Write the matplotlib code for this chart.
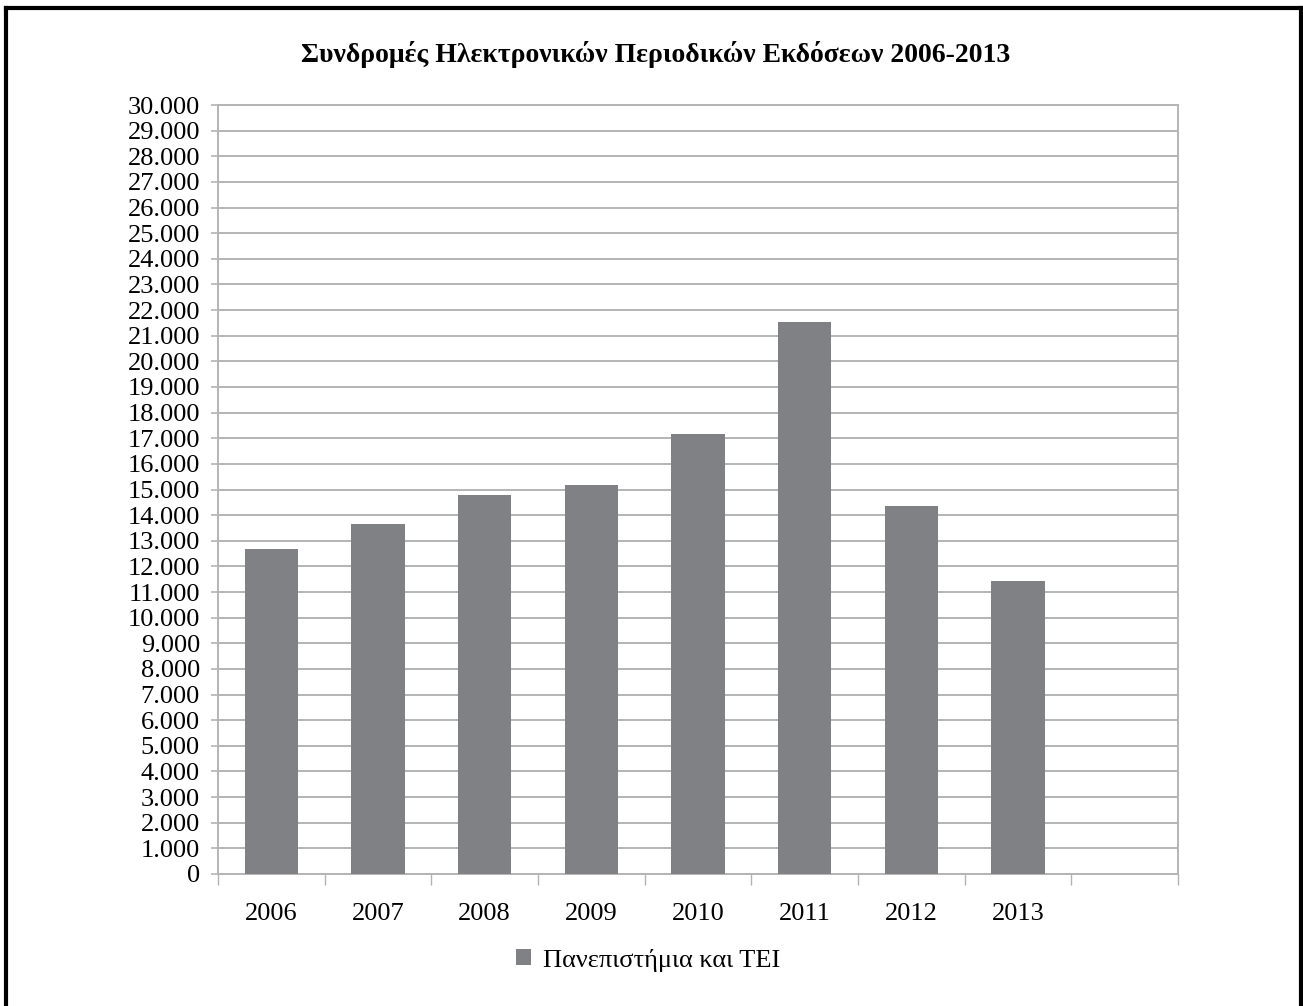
import matplotlib
matplotlib.use("Agg")
import matplotlib.pyplot as plt
from matplotlib.lines import Line2D
from matplotlib.ticker import FuncFormatter, MultipleLocator, FixedLocator

# data
years = ["2006", "2007", "2008", "2009", "2010", "2011", "2012", "2013"]
subscriptions = [12680, 13660, 14790, 15180, 17170, 21540, 14360, 11430]
series_name = "Πανεπιστήμια και ΤΕΙ"
title = "Συνδρομές Ηλεκτρονικών Περιοδικών Εκδόσεων 2006-2013"

plt.rcParams["font.family"] = ["Liberation Serif", "DejaVu Serif"]

W, H = 1303, 1006
fig = plt.figure(figsize=(W / 100, H / 100), dpi=100)
ax = fig.add_axes([218 / W, 1 - 874 / H, (1178 - 218) / W, (874 - 105) / H])

grid_col = "#b4b4b4"
bar_col = "#808184"

x = list(range(len(years)))
ax.bar(x, subscriptions, width=0.5, color=bar_col, zorder=3, label=series_name)

ax.set_xlim(-0.5, 8.5)
ax.set_ylim(0, 30000)
ax.yaxis.set_major_locator(MultipleLocator(1000))
ax.yaxis.set_major_formatter(FuncFormatter(lambda v, p: f"{v:,.0f}".replace(",", ".")))
ax.grid(axis="y", color=grid_col, linewidth=1.4, zorder=0)

ax.set_xticks(x)
ax.set_xticklabels(years)
ax.xaxis.set_minor_locator(FixedLocator([i - 0.5 for i in range(10)]))
ax.tick_params(axis="x", which="major", length=0, pad=21, labelsize=19)
ax.tick_params(axis="x", which="minor", length=8, width=1, color=grid_col)
ax.tick_params(axis="y", length=5, width=1.2, color=grid_col, pad=8, labelsize=19)

for s in ax.spines.values():
    s.set_color(grid_col)
    s.set_linewidth(1.4)

fig.text(656 / W, 1 - 55 / H, title, ha="center", va="center",
         fontsize=20, fontweight="bold")

fig.legend(loc="center", bbox_to_anchor=(648 / W, 1 - 960 / H), frameon=False,
           fontsize=19, handlelength=0.55, handleheight=0.55, handletextpad=0.45)

# outer frame
lw = 3
fig.add_artist(Line2D([6 / W, 6 / W], [0, 1 - 8 / H], color="black", lw=lw, transform=fig.transFigure))
fig.add_artist(Line2D([1301 / W, 1301 / W], [0, 1 - 8 / H], color="black", lw=lw, transform=fig.transFigure))
fig.add_artist(Line2D([6 / W, 1301 / W], [1 - 8 / H, 1 - 8 / H], color="black", lw=lw, transform=fig.transFigure))

fig.savefig("out.png", dpi=100)
